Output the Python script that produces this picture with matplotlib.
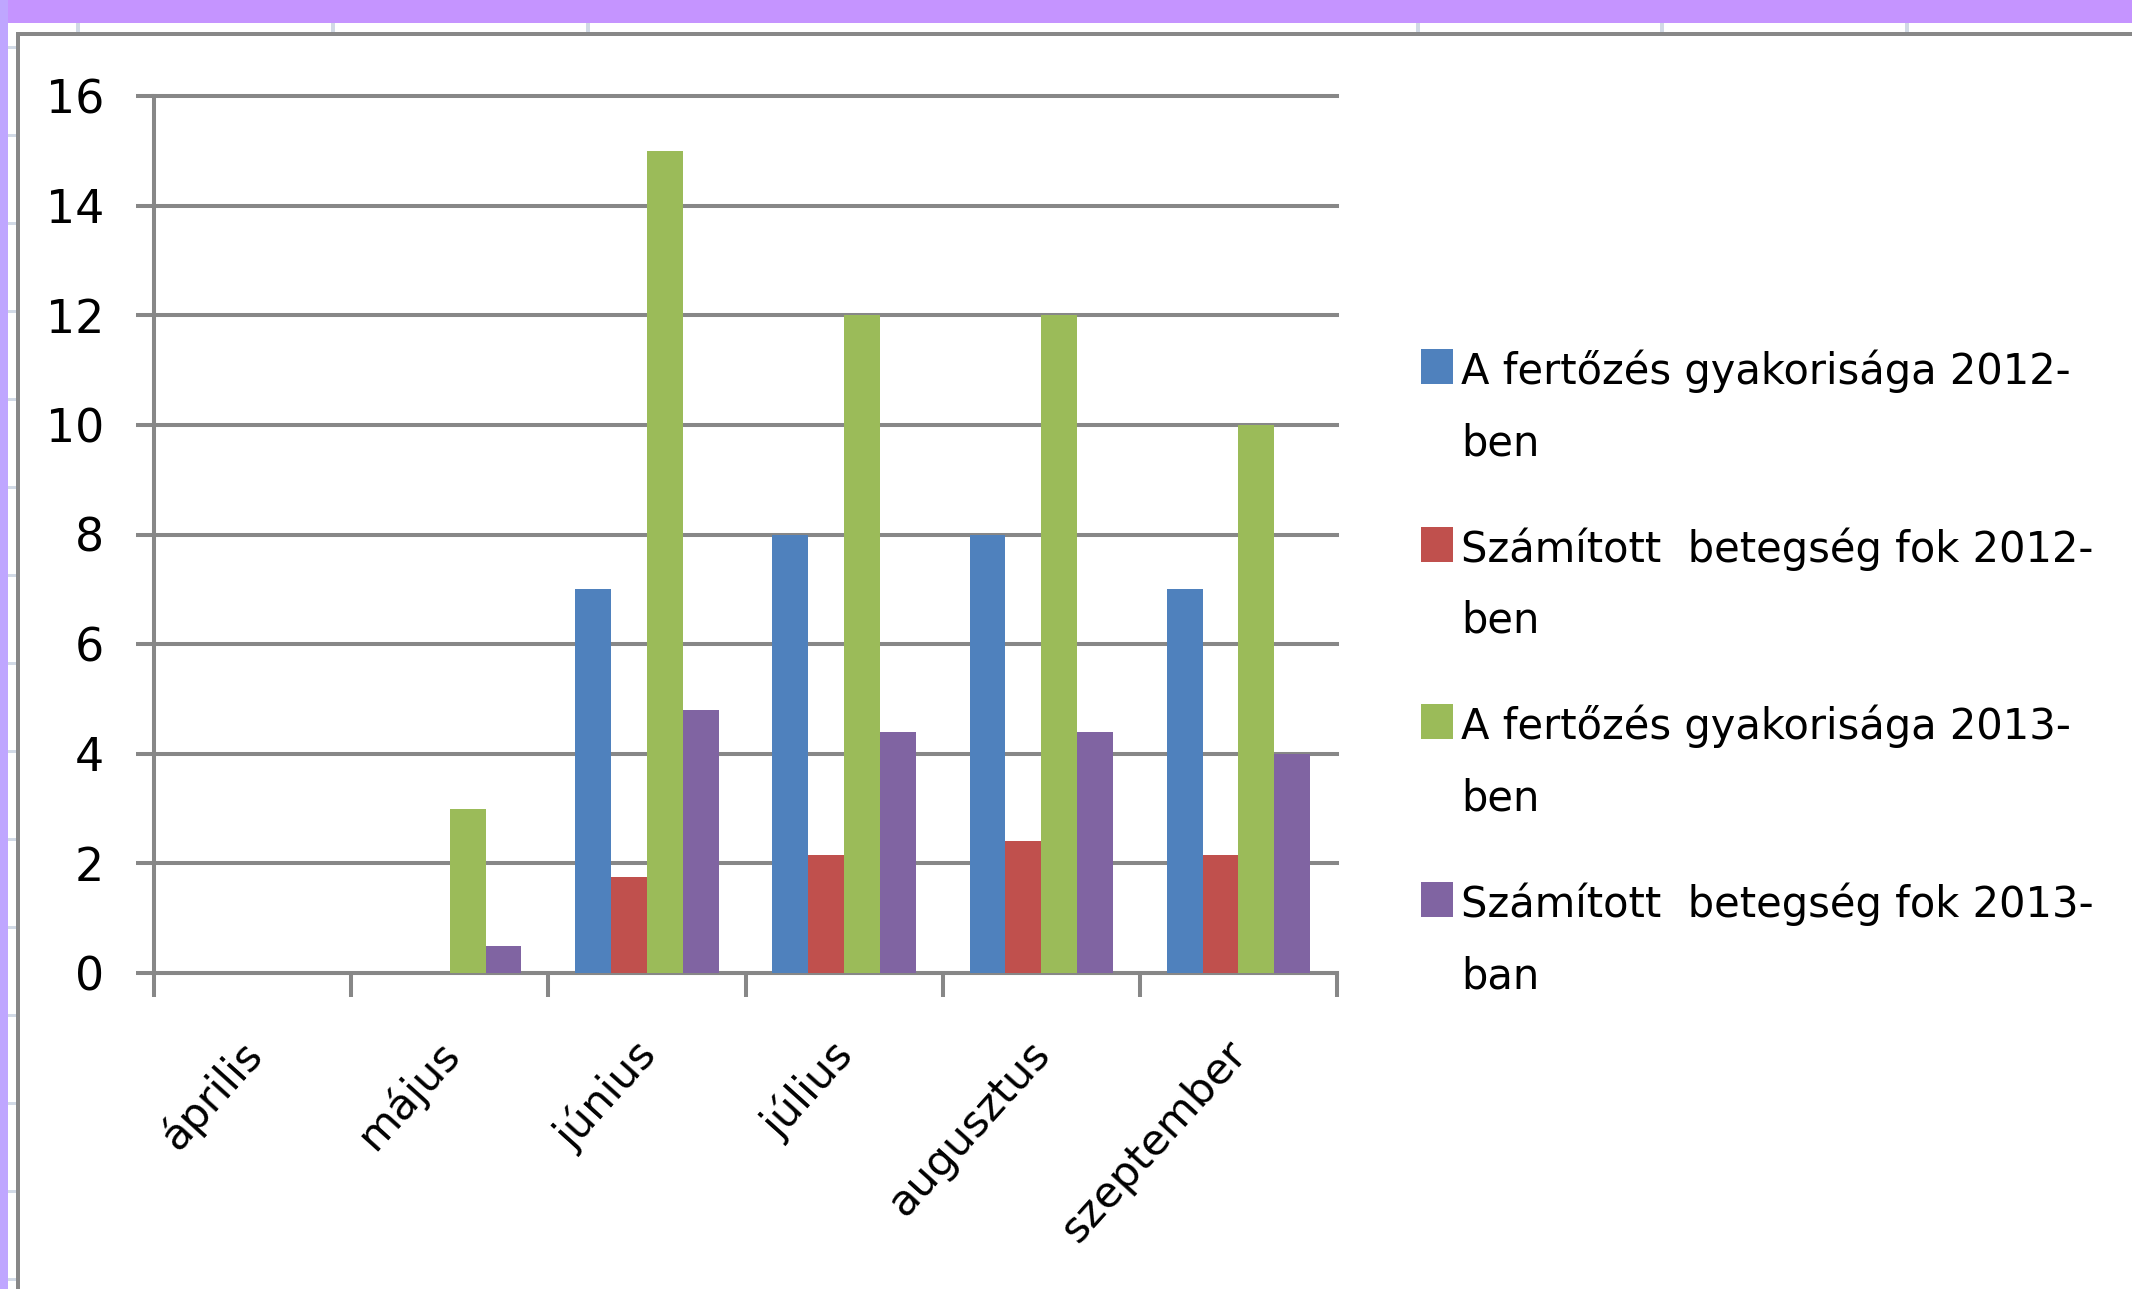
from matplotlib import pyplot as plt
from matplotlib.patches import Rectangle
from matplotlib.transforms import ScaledTranslation
import numpy as np

W, H = 2132, 1289

months = ['április', 'május', 'június', 'július', 'augusztus', 'szeptember']
series_names = ['A fertőzés gyakorisága 2012-\nben',
                'Számított  betegség fok 2012-\nben',
                'A fertőzés gyakorisága 2013-\nben',
                'Számított  betegség fok 2013-\nban']
freq_2012 = [0, 0, 7, 8, 8, 7]
degree_2012 = [0, 0, 1.75, 2.15, 2.4, 2.15]
freq_2013 = [0, 3, 15, 12, 12, 10]
degree_2013 = [0, 0.5, 4.8, 4.4, 4.4, 4.0]
y_ticks = [0, 2, 4, 6, 8, 10, 12, 14, 16]

colors = ['#4F81BD', '#C0504D', '#9BBB59', '#8064A2']
grid_c = '#878787'

plt.rcParams['font.family'] = ['DejaVu Sans']


def fx(px):
    return px / W


def fy(py):
    return 1 - py / H


def box(x0, y0, x1, y1, c):
    # rectangle in pixel coords (y down)
    fig.add_artist(Rectangle((fx(x0), fy(y1)), fx(x1) - fx(x0), fy(y0) - fy(y1),
                             transform=fig.transFigure, color=c, lw=0, zorder=0))


fig = plt.figure(figsize=(W / 100, H / 100), dpi=100)
fig.patch.set_facecolor('white')

# screenshot frame: purple window edge, sheet gridline stubs, chart border
box(0, 0, W, 23, '#c594ff')
box(0, 0, 8, H, '#bfa6ff')
for cx in [78, 333, 588, 1418, 1662, 1907]:
    box(cx - 2, 23, cx + 2, 32, '#d2dae6')
for ry in range(47, H, 88):
    box(8, ry - 1, 16, ry + 2, '#d2dae6')
box(16, 32, W, 36, '#888888')
box(16, 32, 20, H, '#888888')

ax = fig.add_axes([fx(154), fy(973), fx(1337) - fx(154), fy(96) - fy(973)])

x = np.arange(len(months))
w = 1 / 5.5
data = [freq_2012, degree_2012, freq_2013, degree_2013]
for i, vals in enumerate(data):
    ax.bar(x + (i - 1.5) * w, vals, width=w, color=colors[i], zorder=3, lw=0)

ax.set_xlim(-0.5, len(months) - 0.5)
ax.set_ylim(0, 16)
ax.set_yticks(y_ticks)
ax.yaxis.grid(True, color=grid_c, lw=2.9)
ax.set_axisbelow(True)
for gl in ax.get_ygridlines():
    gl.set_clip_on(False)

for s in ['top', 'right']:
    ax.spines[s].set_visible(False)
for s in ['left', 'bottom']:
    ax.spines[s].set_color(grid_c)
    ax.spines[s].set_linewidth(2.9)

ax.tick_params(axis='y', length=13, width=2.9, color=grid_c, pad=23, labelsize=33)
ax.set_xticks(np.arange(-0.5, len(months), 1))
ax.set_xticklabels([])
ax.set_xticks(x, minor=True)
ax.set_xticklabels(months, minor=True)
ax.tick_params(axis='x', which='major', length=17, width=2.9, color=grid_c)
ax.tick_params(axis='x', which='minor', length=0, pad=43, labelsize=31)
shift = ScaledTranslation(-0.14, 0, fig.dpi_scale_trans)
for lab in ax.get_xticklabels(minor=True):
    lab.set_rotation(48)
    lab.set_ha('right')
    lab.set_va('top')
    lab.set_rotation_mode('anchor')
    lab.set_transform(lab.get_transform() + shift)

# legend
for i, name in enumerate(series_names):
    base = 384 + i * 177.7
    box(1421, base - 35, 1453, base, colors[i])
    for j, line in enumerate(name.split('\n')):
        fig.text(fx(1461), fy(base + j * 71), line, fontsize=30,
                 va='baseline', ha='left')

fig.savefig('out.png', dpi=100)
